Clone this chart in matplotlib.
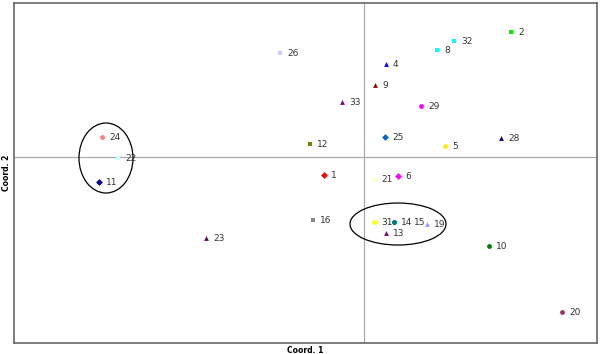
import matplotlib
matplotlib.use("Agg")
from matplotlib import pyplot as plt
from matplotlib.patches import Ellipse

# point labels, coordinates (coord 1, coord 2), marker and colour
labels = ["1", "2", "4", "5", "6", "8", "9", "10", "11", "12", "13", "14", "15", "16",
          "19", "20", "21", "22", "23", "24", "25", "26", "28", "29", "31", "32", "33"]
coord1 = [-0.40, 1.47, 0.22, 0.81, 0.34, 0.73, 0.11, 1.25, -2.65, -0.54, 0.22, 0.30, 0.30, -0.51,
          0.63, 1.98, 0.10, -2.46, -1.58, -2.62, 0.21, -0.84, 1.37, 0.57, 0.10, 0.90, -0.22]
coord2 = [-0.18, 1.25, 0.93, 0.11, -0.19, 1.07, 0.72, -0.89, -0.25, 0.13, -0.76, -0.65, -0.65, -0.63,
          -0.67, -1.55, -0.22, -0.01, -0.81, 0.20, 0.20, 1.04, 0.19, 0.51, -0.65, 1.16, 0.55]
markers = ["D", "s", "^", "o", "D", "s", "^", "o", "D", "s", "^", "o", "o", "s",
           "^", "o", "o", "s", "^", "o", "D", "s", "^", "o", "o", "s", "^"]
colors = ["#ff0000", "#00ee00", "#0000ff", "#ffee00", "#ff00ff", "#00ffff", "#990000", "#008000",
          "#000099", "#808000", "#800080", "#008080", "#008080", "#888888", "#9999ff", "#993366",
          "#ffffcc", "#ccffff", "#660066", "#ff8080", "#0066cc", "#ccccff", "#000080", "#ff00ff",
          "#ffff00", "#00ffff", "#800080"]

# ellipses circling groups: centre x, centre y, width, height
ell_cx = [-2.58, 0.34]
ell_cy = [-0.01, -0.67]
ell_w = [0.54, 0.96]
ell_h = [0.70, 0.42]

fig = plt.figure(figsize=(6, 3.54), dpi=100)
ax = fig.add_axes([0.0233, 0.031, 0.9717, 0.9605])
ax.set_xlim(-3.50, 2.33)
ax.set_ylim(-1.86, 1.54)
ax.axhline(0, color="#aaaaaa", lw=0.9, zorder=0)
ax.axvline(0, color="#aaaaaa", lw=0.9, zorder=0)

for lab, x, y, m, c in zip(labels, coord1, coord2, markers, colors):
    ax.scatter(x, y, marker=m, s=12, color=c, linewidths=0, zorder=2)
    dx = 14.5 if lab == "15" else 5
    ax.annotate(lab, (x, y), xytext=(dx, 0), textcoords="offset points",
                fontsize=6.5, color="#333333", va="center", zorder=3)

for cx, cy, w, h in zip(ell_cx, ell_cy, ell_w, ell_h):
    ax.add_patch(Ellipse((cx, cy), w, h, fill=False, edgecolor="black", lw=0.9))

ax.set_xticks([])
ax.set_yticks([])
for s in ax.spines.values():
    s.set_color("#666666")
    s.set_linewidth(1.2)
ax.set_xlabel("Coord. 1", fontsize=5.5, fontweight="bold", labelpad=2)
ax.set_ylabel("Coord. 2", fontsize=5.5, fontweight="bold", labelpad=2)

fig.savefig("out.png", dpi=100)
